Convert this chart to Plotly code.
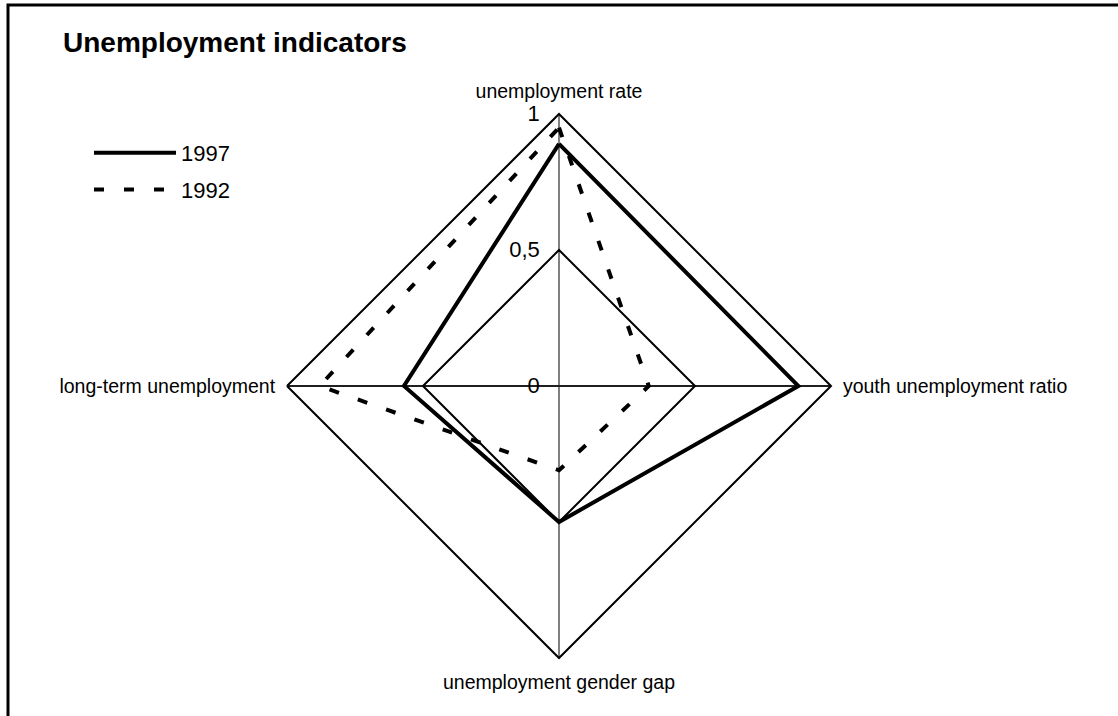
import plotly.graph_objects as go

categories = ["unemployment rate", "youth unemployment ratio",
              "unemployment gender gap", "long-term unemployment"]
values_1997 = [0.89, 0.88, 0.50, 0.57]
values_1992 = [0.95, 0.33, 0.31, 0.88]
radial_ticks = [0, 0.5, 1]
radial_ticktext = ["0", "0,5", "1"]

FONT = "Liberation Sans, Arial, sans-serif"

fig = go.Figure()

fig.add_trace(go.Scatterpolar(
    r=values_1997 + values_1997[:1],
    theta=categories + categories[:1],
    mode="lines", name="1997", legendgroup="a",
    line=dict(color="black", width=4)))

fig.add_trace(go.Scatterpolar(
    r=values_1992 + values_1992[:1],
    theta=categories + categories[:1],
    mode="lines", name="1992", legendgroup="b",
    line=dict(color="black", width=4, dash="10px,20px")))

# horizontal spokes drawn darker (left/right axes)
fig.add_trace(go.Scatterpolar(
    r=[radial_ticks[-1], radial_ticks[0], radial_ticks[-1]],
    theta=[categories[3], categories[3], categories[1]],
    mode="lines", line=dict(color="black", width=1.5),
    showlegend=False, hoverinfo="skip"))

# centre marker
fig.add_trace(go.Scatterpolar(
    r=[radial_ticks[0]], theta=[categories[0]], mode="markers",
    marker=dict(symbol="square", size=4, color="black"),
    showlegend=False, hoverinfo="skip"))

fig.update_layout(
    width=1118, height=716,
    paper_bgcolor="white", plot_bgcolor="white",
    margin=dict(l=0, r=0, t=0, b=0, autoexpand=False),
    font=dict(family=FONT, color="black"),
    title=dict(text="<b>Unemployment indicators</b>", x=63/1118, xanchor="left",
               y=1-42/716, yanchor="middle", xref="paper", yref="paper",
               font=dict(size=28, family=FONT, color="black")),
    polar=dict(
        domain=dict(x=[0, 1], y=[1-658/716, 1-114/716]),
        bgcolor="white",
        gridshape="linear",
        angularaxis=dict(
            rotation=90, direction="clockwise",
            categoryorder="array", categoryarray=categories,
            showline=True, linecolor="black", linewidth=2,
            showgrid=True, gridcolor="#808080", gridwidth=1.5,
            ticks="outside", ticklen=7, tickcolor="rgba(0,0,0,0)",
            tickfont=dict(size=19.5, family=FONT, color="black"),
        ),
        radialaxis=dict(
            range=[0, 1], angle=90, tickangle=90,
            tickvals=radial_ticks, ticktext=radial_ticktext,
            showline=False, showgrid=True, gridcolor="black", gridwidth=2,
            ticks="outside", ticklen=11, tickcolor="rgba(0,0,0,0)",
            tickfont=dict(size=22, family=FONT, color="black"),
            side="counterclockwise",
        ),
    ),
    legend=dict(x=89/1118, y=1-132/716, xanchor="left", yanchor="top",
                bgcolor="rgba(0,0,0,0)", borderwidth=0,
                font=dict(size=22, family=FONT, color="black"),
                itemwidth=82, tracegroupgap=5),
    showlegend=True,
    shapes=[dict(type="rect", xref="paper", yref="paper",
                 x0=8/1118, x1=1.02, y0=-0.05, y1=1-5/716,
                 line=dict(color="black", width=3))],
)

fig.write_html("out.html", config={"displayModeBar": False},
               post_script="document.body.style.margin='0';document.body.style.padding='0';")
